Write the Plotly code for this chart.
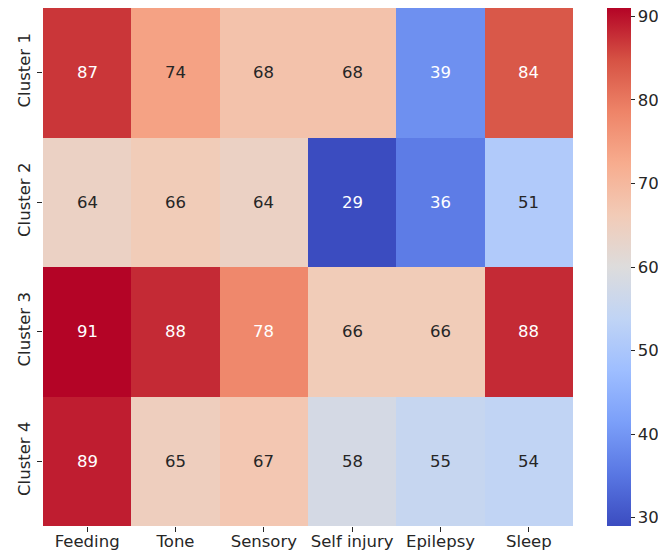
import plotly.graph_objects as go

categories = ["Feeding", "Tone", "Sensory", "Self injury", "Epilepsy", "Sleep"]
clusters = ["Cluster 1", "Cluster 2", "Cluster 3", "Cluster 4"]
cluster1 = [87, 74, 68, 68, 39, 84]
cluster2 = [64, 66, 64, 29, 36, 51]
cluster3 = [91, 88, 78, 66, 66, 88]
cluster4 = [89, 65, 67, 58, 55, 54]
colorbar_ticks = [30, 40, 50, 60, 70, 80, 90]

z = [cluster1, cluster2, cluster3, cluster4]
zmin = min(min(r) for r in z)
zmax = max(max(r) for r in z)

coolwarm = [
    [0.0, "#3b4cc0"], [0.1, "#5977e3"], [0.2, "#7b9ff9"], [0.3, "#9ebeff"],
    [0.4, "#c0d4f5"], [0.5, "#dddcdc"], [0.6, "#f2cbb7"], [0.7, "#f7ac8e"],
    [0.8, "#ee8468"], [0.9, "#d65244"], [1.0, "#b40426"],
]

fig = go.Figure(go.Heatmap(
    z=z, x=categories, y=clusters, zmin=zmin, zmax=zmax,
    colorscale=coolwarm, showscale=True,
    colorbar=dict(
        x=1.0642, xanchor="left", thickness=24, len=1.0, lenmode="fraction",
        y=0.5, yanchor="middle", outlinewidth=0, xpad=0, ypad=0,
        tickvals=colorbar_ticks, ticks="outside", ticklen=4, tickcolor="#262626",
        ticklabeloverflow="allow",
        tickfont=dict(family="DejaVu Sans", size=16.5, color="#262626"),
    ),
    hoverinfo="skip",
))

annotations = []
for ri, row in enumerate(z):
    for ci, v in enumerate(row):
        frac = (v - zmin) / (zmax - zmin)
        col = "white" if (frac > 0.75 or frac < 0.2) else "#262626"
        annotations.append(dict(
            x=categories[ci], y=clusters[ri], text=str(v), showarrow=False,
            font=dict(family="DejaVu Sans", size=16.5, color=col),
        ))

# page body has an 8px default margin, so the figure is sized/offset for it
fig.update_layout(
    width=658, height=544,
    margin=dict(l=35, r=93, t=0, b=26),
    paper_bgcolor="white", plot_bgcolor="white",
    annotations=annotations,
    font=dict(family="DejaVu Sans", size=16.5, color="#262626"),
)
fig.update_xaxes(showgrid=False, zeroline=False, ticks="outside", ticklen=5,
                 tickcolor="#262626", tickfont=dict(size=16.5), showline=False,
                 automargin=False, ticklabelstandoff=-5)
fig.update_yaxes(showgrid=False, zeroline=False, ticks="outside", ticklen=5,
                 tickcolor="#262626", tickfont=dict(size=16.5), autorange="reversed",
                 tickangle=-90, showline=False, automargin=False)

fig.write_html("out.html")
